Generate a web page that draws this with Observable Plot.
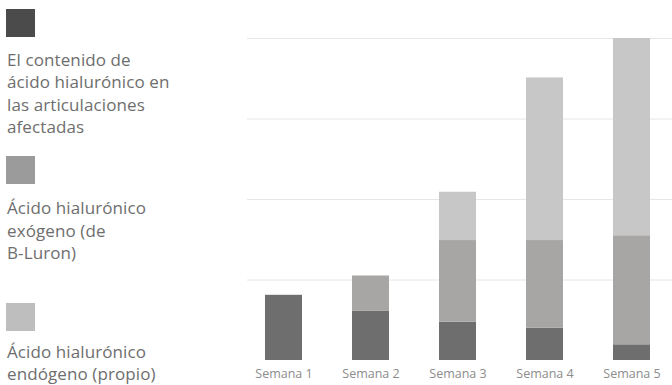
<!DOCTYPE html>
<html>
<head>
<meta charset="utf-8">
<script src="https://cdn.jsdelivr.net/npm/d3@7"></script>
<script src="https://cdn.jsdelivr.net/npm/@observablehq/plot@0.6"></script>
<style>
  html, body { margin: 0; padding: 0; background: #fff; overflow: hidden; }
  #wrap { position: relative; width: 672px; height: 385px; }
  #chart { position: absolute; left: 0; top: 0; }
  .sw { position: absolute; left: 6px; width: 29px; height: 28px; }
  .lt { position: absolute; left: 7px; font-family: "Open Sans", sans-serif; font-size: 17px; line-height: 22.5px; color: #6e6e6e; white-space: nowrap; letter-spacing: 0.1px; }
</style>
</head>
<body>
<div id="wrap">
  <div id="chart"></div>
</div>
<script>
const weeks = ["Semana 1", "Semana 2", "Semana 3", "Semana 4", "Semana 5"];
const seriesNames = [
  "El contenido de ácido hialurónico en las articulaciones afectadas",
  "Ácido hialurónico exógeno (de B-Luron)",
  "Ácido hialurónico endógeno (propio)"
];
const legendLines = [
  ["El contenido de", "ácido hialurónico en", "las articulaciones", "afectadas"],
  ["Ácido hialurónico", "exógeno (de", "B-Luron)"],
  ["Ácido hialurónico", "endógeno (propio)"]
];
const contenido = [0.81, 0.61, 0.475, 0.40, 0.195];
const exogeno   = [0, 0.44, 1.015, 1.09, 1.355];
const endogeno  = [0, 0, 0.60, 2.02, 2.45];
const gridValues = [1, 2, 3, 4];
const barColors = ["#6e6e6e", "#a8a6a5", "#c8c7c7"];
const legendColors = ["#4b4b4b", "#9b9b9b", "#bebebe"];

const seriesValues = [contenido, exogeno, endogeno];
const data = [];
seriesValues.forEach((vals, si) => {
  vals.forEach((v, i) => data.push({week: weeks[i], series: seriesNames[si], order: si, value: v}));
});

const chart = Plot.plot({
  width: 672,
  height: 385,
  marginLeft: 247,
  marginRight: 0,
  marginTop: 38,
  marginBottom: 25,
  style: {fontFamily: "'Open Sans', sans-serif", background: "transparent"},
  x: {domain: weeks, range: [239.5, 674.5], paddingInner: 0.575, paddingOuter: 0.2875, label: null},
  y: {domain: [0, 4], axis: null},
  color: {domain: seriesNames, range: barColors},
  marks: [
    Plot.ruleY(gridValues, {stroke: "#e6e6e6", strokeWidth: 1}),
    Plot.barY(data, Plot.stackY({x: "week", y: "value", fill: "series", order: "order"})),
    Plot.axisX({tickSize: 0, tickPadding: 9, fontSize: 12.5, color: "#8c8c8c", label: null})
  ]
});
document.getElementById("chart").appendChild(chart);

const wrap = document.getElementById("wrap");
const swTops = [9, 156, 303];
const textTops = [48.75, 197, 341];
const lineHeights = [22.5, 22.5, 22];
legendLines.forEach((lines, i) => {
  const s = document.createElement("div");
  s.className = "sw";
  s.style.top = swTops[i] + "px";
  s.style.background = legendColors[i];
  wrap.appendChild(s);
  const t = document.createElement("div");
  t.className = "lt";
  t.style.top = textTops[i] + "px";
  t.style.lineHeight = lineHeights[i] + "px";
  t.innerHTML = lines.join("<br>");
  wrap.appendChild(t);
});
</script>
</body>
</html>
